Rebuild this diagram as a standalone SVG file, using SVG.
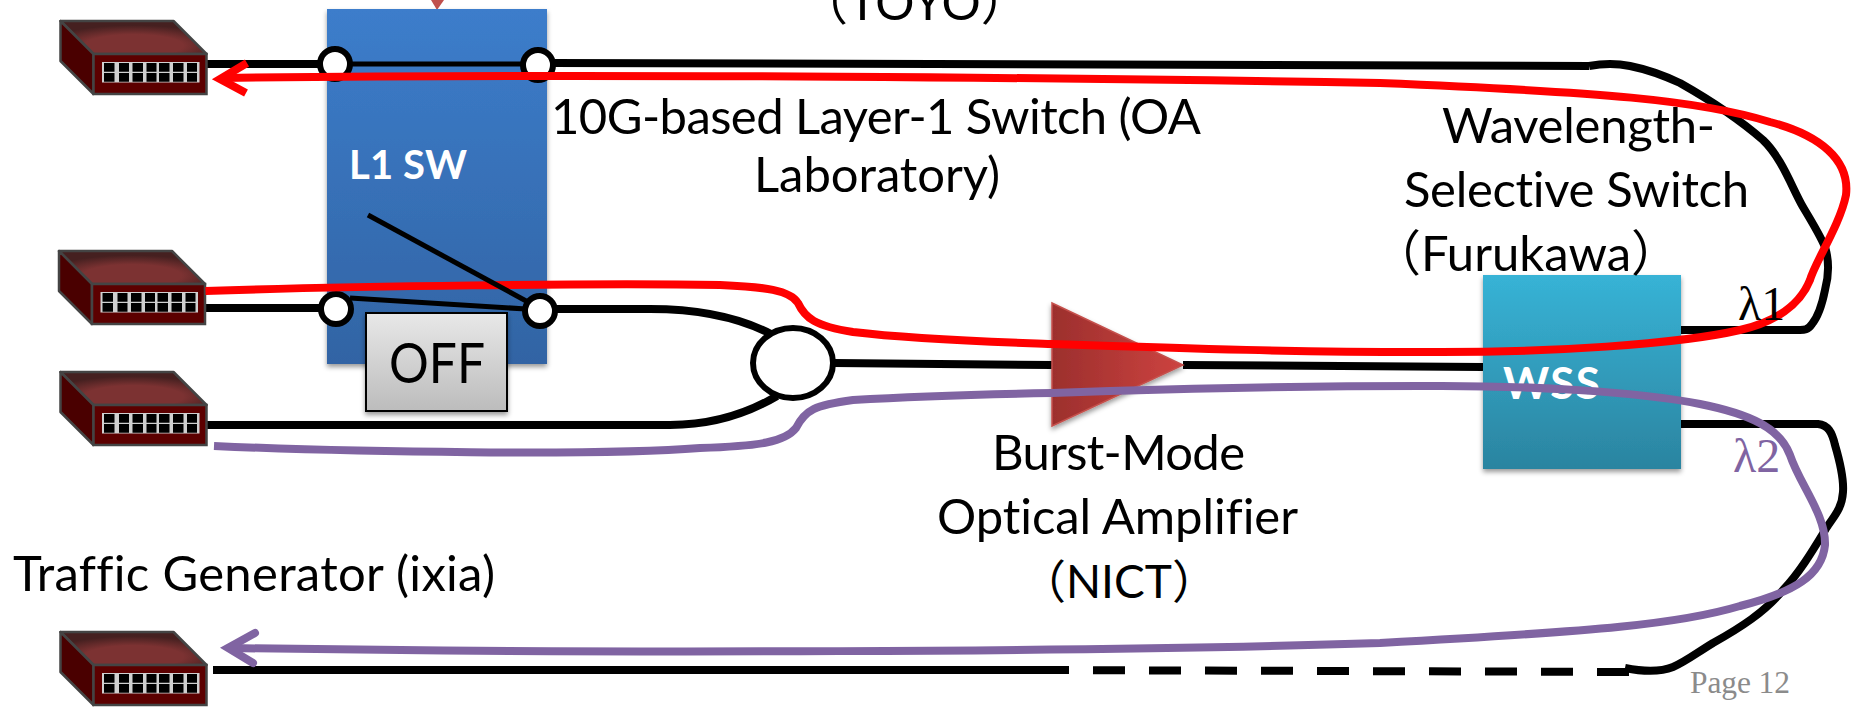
<svg xmlns="http://www.w3.org/2000/svg" xmlns:xlink="http://www.w3.org/1999/xlink" width="1863" height="707" viewBox="0 0 1863 707">
<style>
text{font-family:"Lato","Noto Sans CJK JP",sans-serif;fill:#000;font-variant-ligatures:none}
.lbl{font-size:49px}
.w{stroke:#000;stroke-width:8;fill:none}
.thin{stroke:#000;stroke-width:5;fill:none}
.red{stroke:#f00;stroke-width:8;fill:none;stroke-linecap:butt}
.pur{stroke:#8064a2;stroke-width:8;fill:none}
.port{fill:#fff;stroke:#000;stroke-width:6}
.ser{font-family:"Liberation Serif",serif}
</style>
<defs>
<linearGradient id="blue" x1="0" y1="0" x2="0" y2="1"><stop offset="0" stop-color="#3c7dcb"/><stop offset="1" stop-color="#3264a4"/></linearGradient>
<linearGradient id="cyan" x1="0" y1="0" x2="0" y2="1"><stop offset="0" stop-color="#37b3d6"/><stop offset="1" stop-color="#2b84a0"/></linearGradient>
<linearGradient id="grey" x1="0" y1="0" x2="0" y2="1"><stop offset="0" stop-color="#e8e8e8"/><stop offset="1" stop-color="#bcbcbc"/></linearGradient>
<linearGradient id="amp" x1="0" y1="0" x2="1" y2="0"><stop offset="0" stop-color="#9c2f2d"/><stop offset="1" stop-color="#cd4340"/></linearGradient>
<radialGradient id="devtop" cx=".5" cy=".75" r=".62"><stop offset=".55" stop-color="#7c3232"/><stop offset="1" stop-color="#452020"/></radialGradient>
<filter id="sh" x="-10%" y="-10%" width="120%" height="120%"><feDropShadow dx="0" dy="3" stdDeviation="2.5" flood-color="#000" flood-opacity=".4"/></filter>
<g id="dev">
<path d="M0 0H113L146 33H33Z" fill="url(#devtop)" stroke="#444" stroke-width="2.5" stroke-linejoin="round"/>
<path d="M0 0L33 33V73L0 40Z" fill="#4a0000" stroke="#444" stroke-width="2.5" stroke-linejoin="round"/>
<rect x="33" y="33" width="113" height="40" fill="#5c0000" stroke="#444" stroke-width="2.500"/>
<rect x="41.500" y="41" width="97.500" height="20.500" fill="#d0d0d0"/>
<path d="M43.500 42h10.500v8.700h-10.500zM58.500 42h10v8.700h-10zM72 42h10.500v8.700h-10.500zM86 42h10v8.700h-10zM98.500 42h10.500v8.700h-10.500zM112.500 42h10.500v8.700h-10.500zM126.500 42h10v8.700h-10zM43.500 52h10.500v8.700h-10.500zM58.500 52h10v8.700h-10zM72 52h10.500v8.700h-10.500zM86 52h10v8.700h-10zM98.500 52h10.500v8.700h-10.500zM112.500 52h10.500v8.700h-10.500zM126.500 52h10v8.700h-10z" fill="#000"/>
</g>
</defs>
<rect width="1863" height="707" fill="#fff"/>
<path id="amp-top" d="M431 0H444L437 10Z" fill="#c0504d"/>
<g id="l1sw"><rect x="327" y="9" width="220" height="355" fill="url(#blue)" filter="url(#sh)"/>
<text x="349" y="179" font-size="40" font-weight="700" textLength="118" style="fill:#fff">L1 SW</text></g>
<g id="connectors">
<path class="w" d="M207 64H322M552 63L1589 66"/>
<path class="thin" d="M349 64H525M350 298L526 309"/>
<path class="w" d="M1589 66C1600 64 1615 63 1630 66C1650 70 1665 76 1680 83C1710 100 1740 120 1763 140C1782 158 1792 188 1803 207C1812 222 1820 235 1825 247C1829 260 1829 275 1825 290C1822 305 1817 318 1812 324C1808 330 1804 330 1800 330H1681"/>
<path class="w" d="M1681 424H1818C1828 425 1832 432 1835 445C1840 462 1844 478 1843 492C1842 508 1835 515 1827 527C1813 550 1800 572 1783 590C1765 612 1740 628 1713 643C1695 654 1685 662 1673 667C1658 673 1640 671 1625 668"/>
<path class="w" d="M205 308H322M552 309H650C700 309 740 318 771 334"/>
<path class="w" d="M207 425H670C715 425 750 412 777 396"/>
<path class="w" d="M834 363L1052 365M1183 365L1483 367"/>
<path class="w" d="M213 670H1037"/>
<path class="w" stroke-dasharray="32 24" d="M1037 670L1629 672"/>
</g>
<g id="ports"><circle class="port" cx="335" cy="64" r="15"/><circle class="port" cx="538" cy="65" r="15"/><circle class="port" cx="336" cy="309" r="15"/><circle class="port" cx="540" cy="311" r="15"/></g>
<g id="dev1"><use xlink:href="#dev" href="#dev" x="60.500" y="21"/></g>
<g id="dev2"><use xlink:href="#dev" href="#dev" x="59" y="251"/></g>
<g id="dev3"><use xlink:href="#dev" href="#dev" x="60.500" y="372"/></g>
<g id="dev4"><use xlink:href="#dev" href="#dev" x="60.500" y="632"/></g>
<g id="off"><rect x="366" y="313" width="141" height="98" fill="url(#grey)" stroke="#000" stroke-width="2" filter="url(#sh)"/><text x="389" y="383" font-size="56" textLength="96" lengthAdjust="spacingAndGlyphs">OFF</text></g>
<g id="merge"><ellipse cx="793" cy="363" rx="40" ry="35" fill="#fff" stroke="#000" stroke-width="6"/></g>
<g id="amp1"><path d="M1052 303L1183 365L1052 426Z" fill="url(#amp)" stroke="#c5504c" stroke-width="1.500" filter="url(#sh)"/></g>
<g id="wss"><rect x="1483" y="275" width="198" height="194" fill="url(#cyan)" filter="url(#sh)"/><text x="1503" y="399" font-size="44" font-weight="700" textLength="97" style="fill:#fff">WSS</text></g>
<g id="signals">
<path class="red" d="M205.500 291C350 286 600 283 720 285C765 287 790 290 798 303C805 318 815 326 853 332C920 340 1000 342 1052 344C1200 349 1300 352 1420 352C1550 353 1680 344 1740 330C1775 322 1800 305 1810 280C1815 262 1840 225 1846 195C1850 160 1820 135 1770 122C1700 100 1600 92 1380 83C1100 78 600 73 222 78"/>
<path class="red" stroke-linecap="round" d="M247 63L220 79L246 93"/>
<path class="pur" d="M214 446C350 452 600 456 700 448C760 446 785 442 796 428C805 410 815 405 853 400C920 396 1000 394 1052 393C1200 388 1300 386 1420 386C1530 385 1640 392 1700 404C1750 414 1780 428 1790 455C1800 485 1826 515 1825 545C1822 575 1795 592 1740 606C1680 624 1600 631 1380 643C1100 652 600 654 232 648"/>
<path class="pur" stroke-linecap="round" d="M255 633L228 648L253 663"/>
</g>
<path id="switch-arm" class="thin" d="M368 215L528 302"/>
<g id="labels">
<text class="lbl" x="799" y="20">（TOYO）</text>
<text class="lbl" x="551" y="134" textLength="650">10G-based Layer-1 Switch (OA</text>
<text class="lbl" x="754" y="192" textLength="246">Laboratory)</text>
<text class="lbl" x="1442" y="143" textLength="273">Wavelength-</text>
<text class="lbl" x="1404" y="207" textLength="345">Selective Switch</text>
<text class="lbl" x="1372" y="271">（Furukawa）</text>
<text class="lbl" x="992" y="470" textLength="253">Burst-Mode</text>
<text class="lbl" x="937" y="534" textLength="361">Optical Amplifier</text>
<text x="1020" y="598" font-size="46">（NICT）</text>
<text class="lbl" x="13" y="591" textLength="482">Traffic Generator (ixia)</text>
<text class="ser" x="1738" y="320" font-size="48">λ1</text>
<text class="ser" x="1733" y="472" font-size="48" style="fill:#8064a2">λ2</text>
<text class="ser" x="1690" y="693" font-size="31.500" textLength="100" style="fill:#8b8b8b">Page 12</text>
</g>
</svg>
